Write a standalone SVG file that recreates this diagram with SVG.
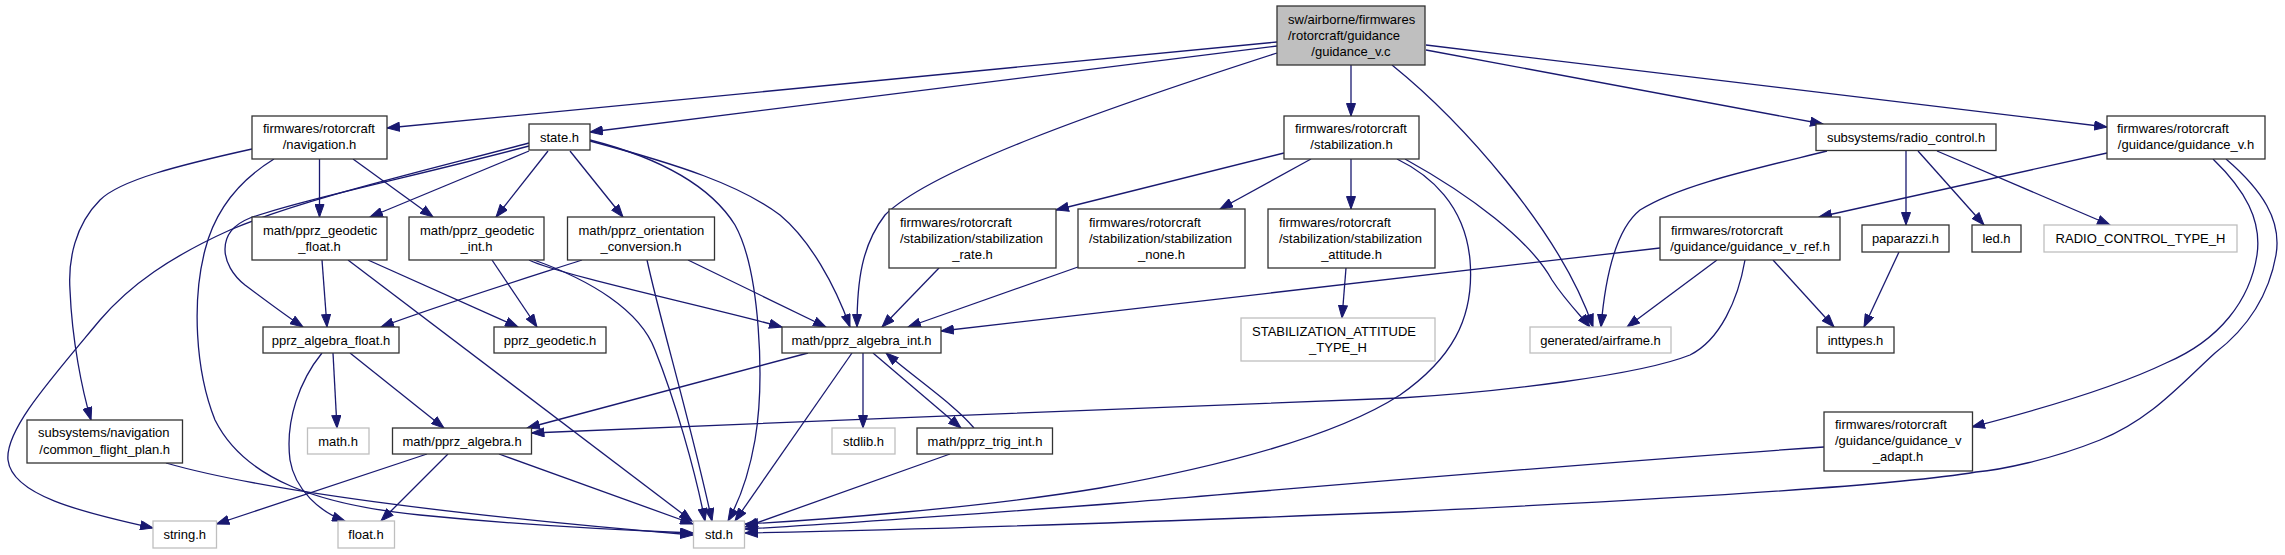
<svg xmlns="http://www.w3.org/2000/svg" width="2285" height="555" viewBox="0 0 2285 555">
<style>
.n{fill:#fff;stroke:#333;stroke-width:1.3}
.g{fill:#fff;stroke:#bfbfbf;stroke-width:1.3}
.r{fill:#bfbfbf;stroke:#333;stroke-width:1.3}
text{font-family:"Liberation Sans",Arial,Helvetica,sans-serif;font-size:13px;fill:#000}
.m{text-anchor:middle}
.e path{fill:none;stroke:#191970;stroke-width:1.3;marker-end:url(#ah)}
</style>
<defs>
<marker id="ah" viewBox="0 0 14 10" refX="13" refY="5" markerWidth="14" markerHeight="10" markerUnits="userSpaceOnUse" orient="auto">
<path d="M0.5,0.5 L13,5 L0.5,9.5 Z" fill="#191970" stroke="#191970" stroke-width="1"/>
</marker>
</defs>
<rect width="2285" height="555" fill="#fff"/>
<g class="e" id="edges">
<path d="M1277,42 L387,128"/>
<path d="M1277,46 L590,132"/>
<path d="M1277,53 C1100,110 930,170 885,215 C862,245 857,280 857,327"/>
<path d="M1351,65 L1351,116"/>
<path d="M1392,65 C1460,120 1560,230 1593,327"/>
<path d="M1426,50 L1823,124"/>
<path d="M1426,45 L2107,127"/>
<path d="M252,149 C180,165 120,180 100,200 C75,225 68,260 70,290 C72,340 82,390 91,420"/>
<path d="M274,159 C240,180 215,210 205,250 C192,300 195,370 215,420 C245,480 320,505 420,515 C530,526 640,531 693,533"/>
<path d="M319.5,159 L319.5,217"/>
<path d="M353,159 L433,217"/>
<path d="M529,143 C420,172 300,200 230,230 C170,257 130,285 100,320 C50,380 5,430 8,460 C12,495 80,512 153,528"/>
<path d="M529,146 C420,175 300,200 250,218 C215,232 220,265 245,285 C265,300 285,315 303,327"/>
<path d="M529,151 L370,217"/>
<path d="M548,151 L496,217"/>
<path d="M570,151 L623,217"/>
<path d="M590,140 C660,158 710,185 735,225 C760,270 765,380 755,440 C748,480 737,505 728,521"/>
<path d="M590,141 C680,165 740,185 780,215 C810,240 835,285 850,327"/>
<path d="M322,260 L327,327"/>
<path d="M368,260 L518,327"/>
<path d="M348,260 L692,521"/>
<path d="M492,260 L537,327"/>
<path d="M529,260 C560,275 700,305 782,327"/>
<path d="M534,260 C590,280 640,310 655,350 C675,400 695,470 705,521"/>
<path d="M582,260 C520,280 440,305 381,327"/>
<path d="M688,260 L826,327"/>
<path d="M647,260 C660,320 690,420 712,521"/>
<path d="M333,353 L337,428"/>
<path d="M350,353 L444,428"/>
<path d="M322,353 C300,380 285,420 290,460 C295,490 320,512 345,521"/>
<path d="M427,454 L216.5,524"/>
<path d="M448,454 L381,521"/>
<path d="M499,454 L693,524"/>
<path d="M808,353 L527,428"/>
<path d="M863,353 L863,428"/>
<path d="M873,353 L961,428"/>
<path d="M974,428 C955,405 915,378 886,353"/>
<path d="M852,353 L735,521"/>
<path d="M950,454 L745,527"/>
<path d="M166,463 C260,490 450,515 693,535"/>
<path d="M1284,153 L1056,210"/>
<path d="M1311,159 L1220,209"/>
<path d="M1351,159 L1351,209"/>
<path d="M1397,159 C1430,175 1465,205 1470,260 C1475,320 1450,360 1400,395 C1330,440 1200,470 1100,488 C980,508 820,520 745,524"/>
<path d="M1405,159 C1470,195 1530,240 1552,280 C1565,300 1580,315 1590,327"/>
<path d="M939,268 L882,327"/>
<path d="M1078,267 L908,327"/>
<path d="M1346,268 L1342,318"/>
<path d="M1827,151 C1750,170 1680,185 1640,210 C1615,230 1605,280 1601,327"/>
<path d="M1906,151 L1906,225"/>
<path d="M1918,151 L1984,225"/>
<path d="M1937,151 L2110,225"/>
<path d="M2107,153 L1819,217"/>
<path d="M2213,159 C2245,190 2262,220 2257,255 C2250,300 2220,340 2166,363 C2110,390 2030,412 1972,427"/>
<path d="M2226,159 C2262,190 2282,220 2276,255 C2268,300 2245,330 2215,353 C2180,385 2150,420 2100,440 C2050,460 2000,470 1976,472 C1900,485 1700,498 1400,512 C1100,524 850,531 745,533"/>
<path d="M1824,447 C1600,462 1300,488 1120,503 C950,516 800,526 745,529"/>
<path d="M1717,260 L1627,327"/>
<path d="M1660,248 L941,331"/>
<path d="M1745,260 C1738,300 1720,340 1690,355 C1640,375 1500,392 1400,398 C1200,408 800,420 531.5,433"/>
<path d="M1773,260 L1834,327"/>
<path d="M1899,252 L1864,327"/>
</g>
<g id="guidance_v_c"><rect class="r" x="1277" y="6" width="148" height="59"/><text x="1288" y="24">sw/airborne/firmwares</text><text x="1288" y="40">/rotorcraft/guidance</text><text class="m" x="1351" y="56">/guidance_v.c</text></g>
<g id="navigation_h"><rect class="n" x="252" y="116" width="135" height="43"/><text x="263" y="133">firmwares/rotorcraft</text><text class="m" x="319.5" y="149">/navigation.h</text></g>
<g id="state_h"><rect class="n" x="529" y="124" width="61" height="26"/><text class="m" x="559.5" y="141.5">state.h</text></g>
<g id="stabilization_h"><rect class="n" x="1284" y="116" width="135" height="43"/><text x="1295" y="133">firmwares/rotorcraft</text><text class="m" x="1351.5" y="149">/stabilization.h</text></g>
<g id="radio_control_h"><rect class="n" x="1816" y="124" width="180" height="26.5"/><text class="m" x="1906" y="141.5">subsystems/radio_control.h</text></g>
<g id="guidance_v_h"><rect class="n" x="2107" y="116" width="158" height="43"/><text x="2117" y="133">firmwares/rotorcraft</text><text class="m" x="2186" y="149">/guidance/guidance_v.h</text></g>
<g id="pprz_geodetic_float_h"><rect class="n" x="252" y="217" width="135" height="43"/><text x="263" y="234.5">math/pprz_geodetic</text><text class="m" x="319.5" y="250.5">_float.h</text></g>
<g id="pprz_geodetic_int_h"><rect class="n" x="409" y="217" width="135" height="43"/><text x="420" y="234.5">math/pprz_geodetic</text><text class="m" x="476.5" y="250.5">_int.h</text></g>
<g id="pprz_orientation_conversion_h"><rect class="n" x="567.5" y="217" width="147" height="43"/><text x="578.5" y="234.5">math/pprz_orientation</text><text class="m" x="641" y="250.5">_conversion.h</text></g>
<g id="stabilization_rate_h"><rect class="n" x="889" y="209" width="167" height="59"/><text x="900" y="227">firmwares/rotorcraft</text><text x="900" y="243">/stabilization/stabilization</text><text class="m" x="972.5" y="259">_rate.h</text></g>
<g id="stabilization_none_h"><rect class="n" x="1078" y="209" width="167" height="59"/><text x="1089" y="227">firmwares/rotorcraft</text><text x="1089" y="243">/stabilization/stabilization</text><text class="m" x="1161.5" y="259">_none.h</text></g>
<g id="stabilization_attitude_h"><rect class="n" x="1268" y="209" width="167" height="59"/><text x="1279" y="227">firmwares/rotorcraft</text><text x="1279" y="243">/stabilization/stabilization</text><text class="m" x="1351.5" y="259">_attitude.h</text></g>
<g id="guidance_v_ref_h"><rect class="n" x="1660" y="217" width="180" height="43"/><text x="1671" y="234.5">firmwares/rotorcraft</text><text class="m" x="1750" y="250.5">/guidance/guidance_v_ref.h</text></g>
<g id="paparazzi_h"><rect class="n" x="1862" y="225" width="87" height="27"/><text class="m" x="1905.5" y="243">paparazzi.h</text></g>
<g id="led_h"><rect class="n" x="1972" y="225" width="49" height="27"/><text class="m" x="1996.5" y="243">led.h</text></g>
<g id="radio_control_type_h"><rect class="g" x="2044" y="225" width="193" height="27"/><text class="m" x="2140.5" y="243">RADIO_CONTROL_TYPE_H</text></g>
<g id="pprz_algebra_float_h"><rect class="n" x="263" y="327" width="136" height="26"/><text class="m" x="331" y="344.5">pprz_algebra_float.h</text></g>
<g id="pprz_geodetic_h"><rect class="n" x="494" y="327" width="112" height="26"/><text class="m" x="550" y="344.5">pprz_geodetic.h</text></g>
<g id="pprz_algebra_int_h"><rect class="n" x="782" y="327" width="159" height="26"/><text class="m" x="861.5" y="344.5">math/pprz_algebra_int.h</text></g>
<g id="stabilization_attitude_type_h"><rect class="g" x="1241" y="318" width="194" height="43"/><text x="1252" y="335.5">STABILIZATION_ATTITUDE</text><text class="m" x="1338" y="351.5">_TYPE_H</text></g>
<g id="airframe_h"><rect class="g" x="1530" y="327" width="141" height="26"/><text class="m" x="1600.5" y="344.5">generated/airframe.h</text></g>
<g id="inttypes_h"><rect class="n" x="1817" y="327" width="77" height="26"/><text class="m" x="1855.5" y="344.5">inttypes.h</text></g>
<g id="common_flight_plan_h"><rect class="n" x="27" y="420" width="155.5" height="43"/><text x="38" y="437">subsystems/navigation</text><text class="m" x="104.7" y="453.5">/common_flight_plan.h</text></g>
<g id="math_h"><rect class="g" x="307.5" y="428" width="61.5" height="26"/><text class="m" x="338" y="445.5">math.h</text></g>
<g id="pprz_algebra_h"><rect class="n" x="392.5" y="428" width="139" height="26"/><text class="m" x="462" y="445.5">math/pprz_algebra.h</text></g>
<g id="stdlib_h"><rect class="g" x="832" y="428" width="63" height="26"/><text class="m" x="863.5" y="445.5">stdlib.h</text></g>
<g id="pprz_trig_int_h"><rect class="n" x="917" y="428" width="135.5" height="26"/><text class="m" x="985" y="445.5">math/pprz_trig_int.h</text></g>
<g id="guidance_v_adapt_h"><rect class="n" x="1824" y="412" width="148.5" height="59"/><text x="1835" y="428.8">firmwares/rotorcraft</text><text x="1835" y="444.8">/guidance/guidance_v</text><text class="m" x="1898" y="460.8">_adapt.h</text></g>
<g id="string_h"><rect class="g" x="153" y="521" width="63.5" height="27"/><text class="m" x="184.7" y="539">string.h</text></g>
<g id="float_h"><rect class="g" x="338" y="521" width="56.5" height="27"/><text class="m" x="366" y="539">float.h</text></g>
<g id="std_h"><rect class="g" x="693.5" y="521" width="51" height="27"/><text class="m" x="719" y="539">std.h</text></g>
</svg>
